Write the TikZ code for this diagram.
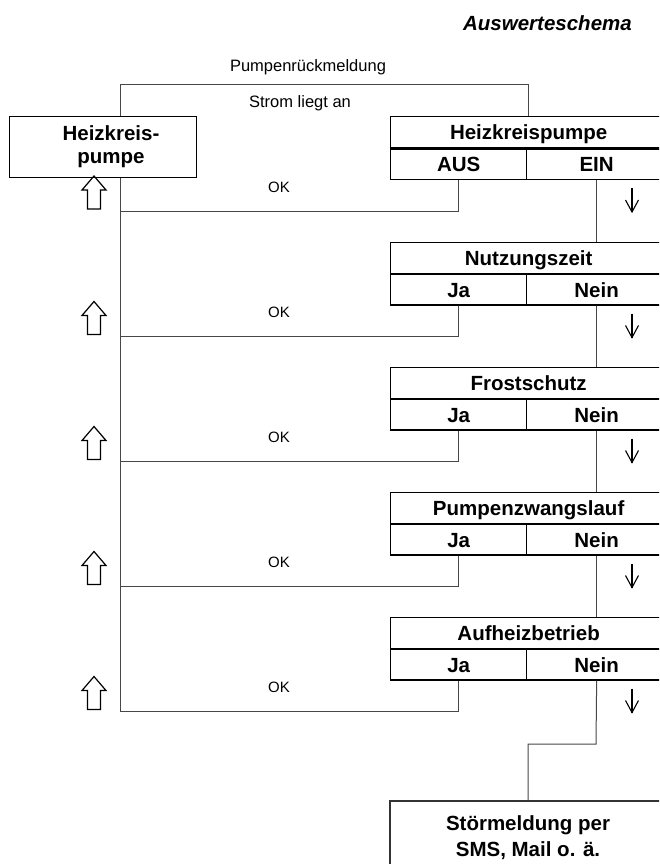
\documentclass[tikz,border=0pt]{standalone}
\usepackage{fontspec}
\setmainfont{Liberation Sans}
\tikzset{
  bx/.style={draw=black, line width=1.3pt, inner sep=0pt, text height=14.7pt, text depth=0pt, font=\fontsize{20.5}{24}\selectfont\bfseries},
  hdr/.style={bx, minimum width=276pt, minimum height=31pt, anchor=north west},
  hl/.style={bx, minimum width=136pt, minimum height=30.5pt, anchor=north west},
  hr/.style={bx, minimum width=140pt, minimum height=30.5pt, anchor=north east},
  wire/.style={draw=black!72, line width=1pt},
  lbl/.style={inner sep=0pt, anchor=base, font=\fontsize{16.5}{19}\selectfont},
  oklbl/.style={inner sep=0pt, anchor=base, font=\fontsize{15}{18}\selectfont},
  uparr/.pic={\draw[line width=1.2pt, line join=miter] (0,0) -- (12,14) -- (6.5,14) -- (6.5,33) -- (-6.5,33) -- (-6.5,14) -- (-12,14) -- cycle;},
  downarr/.pic={\draw[line width=1.1pt] (0,0) -- (0,24); \draw[line width=1.1pt] (-6.5,12) -- (0,24) -- (6.5,12);}
}
\begin{document}
\begin{tikzpicture}[x=1pt,y=-1pt]
\useasboundingbox (0,0) rectangle (659,864);
\clip (0,0) rectangle (659,864);

\node[font=\fontsize{20.5}{24}\selectfont\bfseries\itshape, anchor=base east, inner sep=0pt] (title) at (632,31) {Auswerteschema};

% left box
\node[bx, minimum width=187pt, minimum height=61pt, anchor=north west] (lb) at (9,116) {};
\node[font=\fontsize{20.5}{23}\selectfont\bfseries, align=center, inner sep=0pt] (lbt) at (111,146.5) {Heizkreis-\\pumpe};

% decision boxes
\foreach \i/\t/\h/\l/\r in {1/116/Heizkreispumpe/AUS/EIN, 2/241.5/Nutzungszeit/Ja/Nein, 3/366.5/Frostschutz/Ja/Nein, 4/491.5/Pumpenzwangslauf/Ja/Nein, 5/616.5/Aufheizbetrieb/Ja/Nein} {
  \node[hdr] (h\i) at (390,\t) {\h};
  \node[hl] (a\i) at (h\i.south west) {\l};
  \node[hr] (b\i) at (h\i.south east) {\r};
  \coordinate (j\i) at (120,\t+95);
  \draw[wire] (a\i.south) |- (j\i);
  \node[oklbl] (ok\i) at (279,\t+76) {OK};
  \pic at (94,\t+60) {uparr};
  \pic at (632,\t+72) {downarr};
}
\foreach \i/\n in {1/2,2/3,3/4,4/5} \draw[wire] (b\i.south) -- (b\i.south |- h\n.north);

% left trunk and top loop
\draw[wire] (lb.south -| j1) -- (j5);
\coordinate (tl) at (120,85);
\coordinate (tr) at (528,85);
\draw[wire] (lb.north -| tl) -- (tl) -- (tr) -- (h1.north -| tr);
\node[lbl] (pr) at (308,72) {Pumpenrückmeldung};
\node[lbl] (sl) at (300,108) {Strom liegt an};

% alarm box
\node[draw=black!80, line width=1.5pt, anchor=north, minimum width=276pt, align=center, inner ysep=15pt, font=\fontsize{20.5}{26}\selectfont\bfseries] (st) at (528,800) {Störmeldung per\\SMS, Mail o. ä.};
\coordinate (k) at (596,744);
\draw[wire] (b5.south) -- (k) -| (st.north);
\end{tikzpicture}
\end{document}
